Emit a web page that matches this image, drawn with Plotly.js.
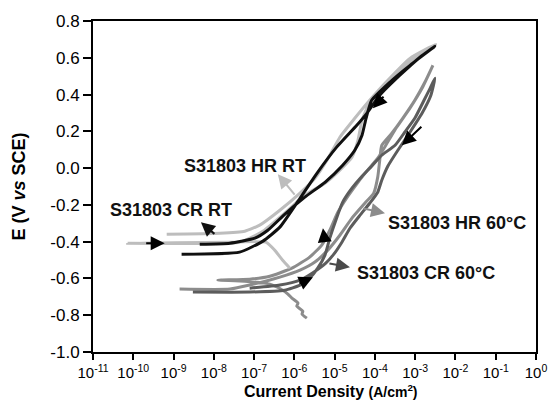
<!DOCTYPE html>
<html>
<head>
<meta charset="utf-8">
<script src="https://cdn.plot.ly/plotly-3.0.1.min.js"></script>
<style>html,body{margin:0;padding:0;background:#fff;}#chart{width:551px;height:402px;}</style>
</head>
<body>
<div id="chart"></div>
<script>
// ---- data: log10(current density, A/cm^2) and potential E (V vs SCE) ----
const hrRtLogI = [-6.11,-6.29,-6.49,-6.71,-7.60,-10.14,-8.35,-7.36,-6.81,-6.24,-5.74,-5.24,-4.87,-4.57,-4.42,-4.32,-4.08,-3.68,-3.18,-2.49,-3.13,-3.68,-4.13,-4.50,-4.87,-5.19,-5.49,-5.86,-6.36,-6.86,-7.23,-7.85,-9.17];
const hrRtE    = [-0.544,-0.501,-0.446,-0.403,-0.403,-0.408,-0.410,-0.403,-0.348,-0.245,-0.147,-0.082,-0.011,0.059,0.152,0.260,0.380,0.467,0.570,0.673,0.597,0.478,0.369,0.271,0.168,0.043,-0.055,-0.136,-0.229,-0.310,-0.343,-0.354,-0.359];

const crRtLogI = [-8.80,-7.36,-6.78,-6.36,-5.86,-5.44,-4.95,-4.45,-4.20,-3.88,-3.38,-2.88,-2.51,-3.13,-3.63,-4.08,-4.22,-4.32,-4.50,-4.80,-5.24,-5.74,-6.24,-6.66,-6.98,-7.60,-8.35];
const crRtE    = [-0.468,-0.457,-0.397,-0.321,-0.164,-0.028,0.114,0.233,0.298,0.396,0.505,0.603,0.662,0.559,0.467,0.369,0.271,0.179,0.097,0.016,-0.077,-0.158,-0.251,-0.338,-0.381,-0.408,-0.414];

const hr60LogI = [-5.69,-5.81,-5.79,-5.94,-5.91,-6.06,-6.16,-6.29,-6.61,-7.23,-7.90,-7.11,-6.61,-6.06,-5.62,-5.32,-5.12,-4.92,-4.67,-4.42,-4.18,-3.93,-3.70,-3.46,-3.13,-2.83,-2.56,-2.76,-3.01,-3.31,-3.58,-3.83,-3.88,-3.93,-4.03,-4.25,-4.57,-4.87,-5.17,-5.49,-5.86,-6.36,-7.11,-7.60,-8.85];
const hr60E    = [-0.816,-0.794,-0.778,-0.751,-0.734,-0.707,-0.685,-0.664,-0.631,-0.615,-0.609,-0.604,-0.588,-0.544,-0.484,-0.419,-0.338,-0.240,-0.153,-0.077,-0.011,0.054,0.135,0.222,0.326,0.434,0.559,0.467,0.369,0.271,0.190,0.124,0.043,-0.049,-0.136,-0.191,-0.272,-0.365,-0.446,-0.511,-0.555,-0.593,-0.636,-0.658,-0.658];

const cr60LogI = [-8.52,-7.11,-6.24,-5.86,-5.62,-5.42,-5.24,-5.12,-4.97,-4.80,-4.57,-4.32,-4.08,-3.83,-3.50,-3.26,-3.01,-2.78,-2.63,-2.51,-2.61,-2.83,-3.13,-3.43,-3.68,-3.83,-3.93,-4.13,-4.37,-4.62,-4.82,-5.02,-5.22,-5.52,-5.86,-6.36,-7.11];
const cr60E    = [-0.674,-0.674,-0.664,-0.636,-0.598,-0.544,-0.473,-0.381,-0.283,-0.185,-0.109,-0.044,0.010,0.070,0.124,0.195,0.271,0.369,0.434,0.489,0.396,0.298,0.195,0.097,0.010,-0.066,-0.131,-0.191,-0.256,-0.327,-0.403,-0.468,-0.517,-0.566,-0.609,-0.636,-0.653];

const seriesNames = ['S31803 HR 60°C','S31803 CR 60°C','S31803 HR RT','S31803 CR RT'];

const xTickVals = [1e-11,1e-10,1e-9,1e-8,1e-7,1e-6,1e-5,1e-4,1e-3,1e-2,1e-1,1];
const xTickText = ['10<sup>-11</sup>','10<sup>-10</sup>','10<sup>-9</sup>','10<sup>-8</sup>','10<sup>-7</sup>','10<sup>-6</sup>','10<sup>-5</sup>','10<sup>-4</sup>','10<sup>-3</sup>','10<sup>-2</sup>','10<sup>-1</sup>','10<sup>0</sup>'];
const yTickVals = [-1.0,-0.8,-0.6,-0.4,-0.2,0.0,0.2,0.4,0.6,0.8];
const yTickText = ['-1.0','-0.8','-0.6','-0.4','-0.2','0.0','0.2','0.4','0.6','0.8'];
const xTitle = '<b>Current Density </b><b><span style="font-size:14px">(A/cm<sup>2</sup>)</span></b>';
const yTitle = '<b>E (V <i>vs</i> SCE)</b>';

// ---- build ----
const toCurrent = a => a.map(v => Math.pow(10, v));
const FONT = 'Liberation Sans, Arial, sans-serif';
const colors = ['#8c8c8c','#5c5c5c','#bdbdbd','#101010'];
const logs = [hr60LogI, cr60LogI, hrRtLogI, crRtLogI];
const es = [hr60E, cr60E, hrRtE, crRtE];

const traces = seriesNames.map((n, k) => ({
  type: 'scatter', mode: 'lines', name: n,
  x: toCurrent(logs[k]), y: es[k],
  line: {color: colors[k], width: 3, shape: 'spline', smoothing: 0.5}
}));

function label(text, lx, y) {
  return {x: lx, y: y, xref: 'x', yref: 'y', text: '<b>' + text + '</b>', showarrow: false,
          font: {family: FONT, size: 18, color: '#111'}};
}
function arrow(lx, y, ax, ay, color) {
  return {x: lx, y: y, xref: 'x', yref: 'y', ax: ax, ay: ay, text: '', showarrow: true,
          arrowhead: 2, arrowsize: 1.4, arrowwidth: 2, arrowcolor: color};
}

const annotations = [
  label('S31803 HR RT', -7.23, 0.01),
  arrow(-6.41, -0.033, 18, 22, '#bdbdbd'),
  label('S31803 CR RT', -9.07, -0.229),
  arrow(-8.32, -0.294, 15, 13, '#101010'),
  label('S31803 HR 60°C', -1.96, -0.299),
  arrow(-3.75, -0.245, -23, -5, '#8c8c8c'),
  label('S31803 CR 60°C', -2.73, -0.571),
  arrow(-4.62, -0.539, -22, -4, '#4a4a4a'),
  arrow(-9.22, -0.408, -20, 0, '#000'),
  arrow(-4.05, 0.326, 12, -13, '#000'),
  arrow(-3.33, 0.124, 21, -20, '#000'),
  arrow(-5.29, -0.327, 2, 15, '#000'),
  arrow(-5.54, -0.593, -15, 7, '#000'),
  // x-axis title placed just below the tick labels
  {xref: 'paper', yref: 'paper', x: 0.537, y: -0.1177, xanchor: 'center', yanchor: 'middle',
   borderpad: 0, text: xTitle, showarrow: false, font: {family: FONT, size: 16, color: '#000'}}
];

const axisCommon = {
  showgrid: false, zeroline: false, showline: true, linecolor: '#000', linewidth: 2,
  mirror: true, ticks: 'outside', ticklen: 8, tickwidth: 2, tickcolor: '#000',
  tickfont: {family: FONT, size: 17, color: '#000'}
};

const layout = {
  width: 551, height: 402,
  margin: {l: 93, r: 15, t: 21, b: 50},
  paper_bgcolor: '#fff', plot_bgcolor: '#fff',
  showlegend: false,
  font: {family: FONT, color: '#000'},
  xaxis: Object.assign({}, axisCommon, {
    type: 'log', range: [-11, 0], tickmode: 'array', tickvals: xTickVals, ticktext: xTickText,
    ticklen: 6, tickfont: {family: FONT, size: 15, color: '#000'}
  }),
  yaxis: Object.assign({}, axisCommon, {
    range: [-1.0, 0.8], tickmode: 'array', tickvals: yTickVals, ticktext: yTickText,
    title: {text: yTitle, font: {family: FONT, size: 18, color: '#000'}, standoff: 20}
  }),
  annotations: annotations
};

Plotly.newPlot('chart', traces, layout, {displayModeBar: false, staticPlot: true});
</script>
</body>
</html>
